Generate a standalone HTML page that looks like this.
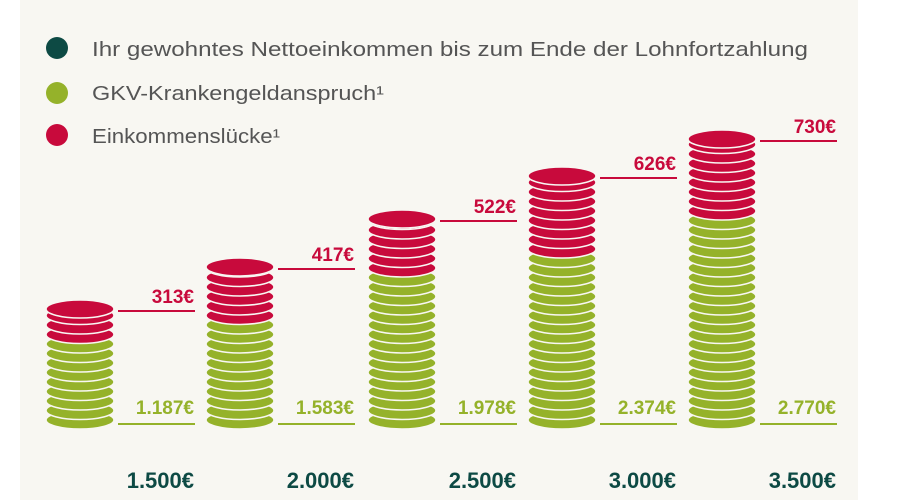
<!DOCTYPE html>
<html><head><meta charset="utf-8"><style>
html,body{margin:0;padding:0;background:#fff;}
svg{display:block;font-family:"Liberation Sans",sans-serif;}
</style></head><body>
<svg width="900" height="500" viewBox="0 0 900 500">
<rect x="20" y="0" width="838" height="500" fill="#f8f7f2"/>
<circle cx="57" cy="48" r="11" fill="#0d4a44"/>
<circle cx="57" cy="93" r="11" fill="#95b22a"/>
<circle cx="57" cy="135" r="11" fill="#c80a3c"/>
<g fill="#555" font-size="20">
<text x="92" y="56" textLength="716" lengthAdjust="spacingAndGlyphs">Ihr gewohntes Nettoeinkommen bis zum Ende der Lohnfortzahlung</text>
<text x="92" y="100" textLength="292" lengthAdjust="spacingAndGlyphs">GKV-Krankengeldanspruch¹</text>
<text x="92" y="143" textLength="188" lengthAdjust="spacingAndGlyphs">Einkommenslücke¹</text>
</g>
<g id="stacks"></g>
</svg>
<script>
var data=[[80,300,340,"313€","1.187€","1.500€"],[240,258,318,"417€","1.583€","2.000€"],[402,210,275,"522€","1.978€","2.500€"],[562,167,250,"626€","2.374€","3.000€"],[722,130,215,"730€","2.770€","3.500€"]];
var g=document.getElementById("stacks"),s="";
data.forEach(function(d){
 var cx=d[0],top=d[1],b=d[2],bottom=420;
 for(var y=bottom;y>=top+10;y-=9.5){
  var c=(y<b)?"#c80a3c":"#95b22a";
  s+='<ellipse cx="'+cx+'" cy="'+y+'" rx="34" ry="9" fill="'+c+'" stroke="#f8f7f2" stroke-width="1.6"/>';
 }
 s+='<ellipse cx="'+cx+'" cy="'+(top+9)+'" rx="34" ry="9" fill="#c80a3c" stroke="#f8f7f2" stroke-width="1.6"/>';
 s+='<line x1="'+(cx+38)+'" x2="'+(cx+115)+'" y1="'+(top+11)+'" y2="'+(top+11)+'" stroke="#c80a3c" stroke-width="2"/>';
 s+='<text x="'+(cx+114)+'" y="'+(top+3)+'" text-anchor="end" font-size="19" font-weight="bold" fill="#c80a3c">'+d[3]+'</text>';
 s+='<line x1="'+(cx+38)+'" x2="'+(cx+115)+'" y1="424" y2="424" stroke="#95b22a" stroke-width="2"/>';
 s+='<text x="'+(cx+114)+'" y="414" text-anchor="end" font-size="19" font-weight="bold" fill="#95b22a">'+d[4]+'</text>';
 s+='<text x="'+(cx+114)+'" y="488" text-anchor="end" font-size="22" font-weight="bold" fill="#0d4a44">'+d[5]+'</text>';
});
g.innerHTML=s;
</script>
</body></html>
